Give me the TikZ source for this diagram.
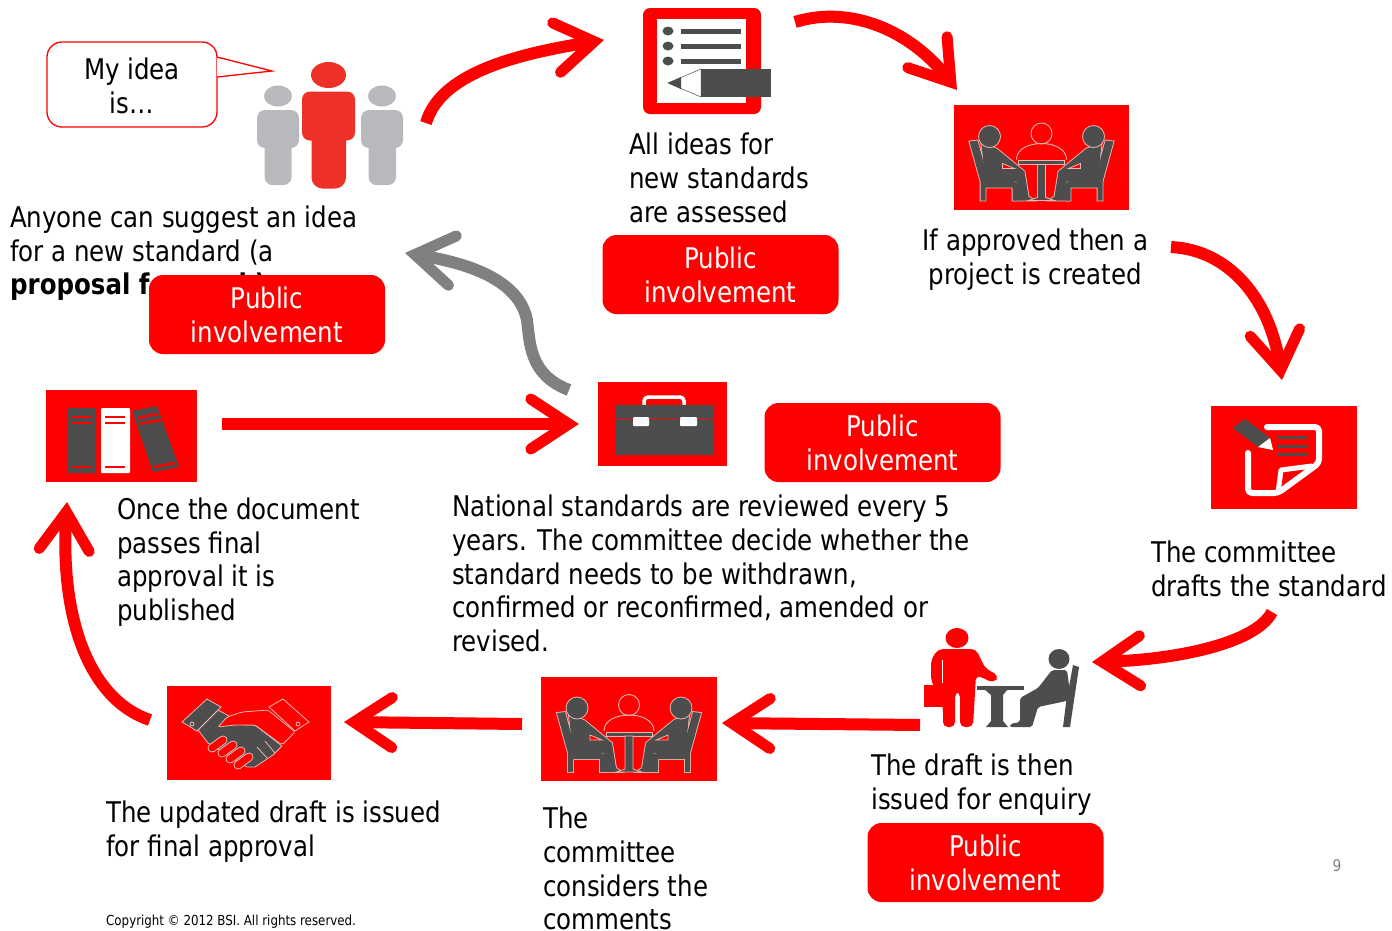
\documentclass[tikz,border=0pt]{standalone}
\usepackage{fontspec}
\setmainfont[FakeStretch=0.955]{DejaVu Sans Condensed}
\usetikzlibrary{arrows.meta}

\definecolor{bsired}{RGB}{255,0,0}
\definecolor{iconred}{RGB}{238,49,39}
\definecolor{icongray}{RGB}{77,77,77}
\definecolor{pale}{RGB}{184,185,189}
\definecolor{edge}{RGB}{232,185,176}
\definecolor{backarrow}{RGB}{128,128,128}

\begin{document}
\begin{tikzpicture}[x=1pt,y=-1pt]

% definitions
\tikzstyle{caption} = [anchor=north west, inner sep=0pt, align=left, font=\fontsize{28.5}{33.7}\selectfont, execute at begin node=\strut]

\tikzstyle{public} = [rectangle, rounded corners=14pt, minimum width=236pt, minimum height=79pt, fill=bsired, text=white, inner sep=0pt, align=center, font=\fontsize{28.5}{34}\selectfont, execute at begin node=\rule{0pt}{24pt}]

\tikzstyle{iconbox} = [rectangle, inner sep=0pt, fill=bsired]

\tikzstyle{arrow} = [line width=12pt, draw=bsired, -{Straight Barb[length=38pt, width=50pt, line width=11pt, line cap=round, line join=miter]}]

\tikzstyle{grayarrow} = [arrow, draw=backarrow]

\tikzset{meetingicon/.pic={
  \foreach \side in {1,-1} {
    \begin{scope}[xscale=\side]
      \draw[edge, line width=1.8pt] (-72,-16) -- (-64,-17) -- (-55,16) -- (-25,25) -- (-25,43) -- (-29,43) -- (-29,30) -- (-56,30) -- (-56,43) -- (-61,43) -- (-61,24) -- cycle;
      \draw[edge, line width=1.8pt] (-60,-14) -- (-45,-9) -- (-17,14) -- (-13,39) -- (-7,43) -- (-27,43) -- (-25,24) -- (-56,27) -- cycle;
      \fill[icongray] (-72,-16) -- (-64,-17) -- (-55,16) -- (-25,25) -- (-25,43) -- (-29,43) -- (-29,30) -- (-56,30) -- (-56,43) -- (-61,43) -- (-61,24) -- cycle;
      \fill[icongray] (-60,-14) -- (-45,-9) -- (-17,14) -- (-13,39) -- (-7,43) -- (-27,43) -- (-25,24) -- (-56,27) -- cycle;
      \filldraw[draw=edge, fill=bsired, line width=0.8pt] (-39,6) -- (-27,11) -- (-39,11) -- cycle;
      \filldraw[draw=edge, fill=icongray, line width=0.8pt] (-52,-21) circle [radius=11];
    \end{scope}
  }
  \draw[edge, line width=0.9pt] (0,-24) circle [radius=10.5];
  \draw[edge, line width=0.9pt] (-25,2) .. controls (-25,-9) and (-12,-14) .. (0,-14) .. controls (12,-14) and (25,-9) .. (25,2);
  \filldraw[draw=edge, fill=icongray, line width=0.8pt] (-23,3) rectangle (23,7);
  \filldraw[draw=edge, fill=icongray, line width=0.8pt] (-4,7) -- (4,7) -- (4,40) -- (13,43) -- (-13,43) -- (-4,40) -- cycle;
}}


% red and gray figures
\useasboundingbox (0,0) rectangle (1392,930);

\node (bubble) [rectangle, rounded corners=15pt, draw=bsired, line width=1.3pt, minimum width=170pt, minimum height=85pt, inner sep=0pt] at (132,84.5) {};
\node (bubbletext) [inner sep=0pt, align=center, font=\fontsize{28.5}{34}\selectfont] at (132,86) {My idea\\is…};
\coordinate (bubbletip) at (272,71);
\coordinate (bubblea) at (217,57);
\coordinate (bubbleb) at (217,77);
\draw[draw=bsired, fill=white, line width=1.3pt] (bubblea) -- (bubbletip) -- (bubbleb);

\node (peoplea) [rectangle, rounded corners=8pt, fill=pale, minimum width=42pt, minimum height=38pt, inner sep=0pt] at (278,129) {};
\node (peopleb) [rectangle, rounded corners=8pt, fill=iconred, minimum width=53pt, minimum height=49pt, inner sep=0pt] at (328.5,116) {};
\node (peoplec) [rectangle, rounded corners=8pt, fill=pale, minimum width=42pt, minimum height=38pt, inner sep=0pt] at (382,129) {};
\fill[pale] (278,96) ellipse [x radius=14, y radius=10.5];
\fill[pale, rounded corners=8pt] (264.5,140) rectangle (291.5,185);
\fill[iconred] (328.5,75) ellipse [x radius=17.5, y radius=13];
\fill[iconred, rounded corners=11pt] (311.5,130) rectangle (346,188.5);
\fill[pale] (382,96) ellipse [x radius=14, y radius=10.5];
\fill[pale, rounded corners=8pt] (368.5,140) rectangle (396,185);


% checklist
\node (ideas) [rectangle, rounded corners=7pt, fill=bsired, minimum width=118pt, minimum height=106pt, inner sep=0pt] at (702,61) {};
\fill[white] (657,19) rectangle (746,103);
\foreach \row in {31,46,61} {
  \fill[icongray] (668,\row) ellipse [x radius=5.5, y radius=4.5];
  \fill[icongray] (681,\row-2.5) rectangle (741,\row+2.5);
}
\filldraw[draw=icongray, fill=white, line width=0.5pt] (701,69) -- (701,97) -- (668,83) -- cycle;
\fill[icongray] (681,77) -- (681,89) -- (668,83) -- cycle;
\fill[icongray] (701,69) rectangle (771,97);


% meeting at the top
\node (meetinga) [iconbox, minimum width=175pt, minimum height=105pt] at (1041.5,157.5) {};
\pic at (meetinga) {meetingicon};


% drafting
\node (drafting) [iconbox, minimum width=146pt, minimum height=103pt] at (1284,457.5) {};
\draw[white, line width=6pt, line join=round, line cap=round, rounded corners=4pt] (1267,427) -- (1319,427) -- (1319,463) -- (1278,493) -- (1248,493) -- (1248,453);
\draw[white, line width=5pt, line join=round] (1278,493) -- (1281,470) -- (1312,466);
\foreach \row in {437,446,454} {
  \fill[icongray] (1277,\row-1.5) rectangle (1308,\row+1.5);
}
\fill[icongray] (1233,428) -- (1245,419) -- (1270,438) -- (1258,447) -- cycle;
\fill[white] (1258,447) -- (1270,438) -- (1273,450) -- cycle;


% enquiry
\fill[bsired] (957,638) ellipse [x radius=11.5, y radius=10];
\fill[bsired, rounded corners=5pt] (938,649) -- (976,649) -- (985,668) -- (999,676) -- (994,683) -- (976,675) -- (973,727) -- (960,727) -- (960,692) -- (955,692) -- (955,727) -- (943,727) -- (943,707) -- (931,680) -- (931,660) -- cycle;
\fill[bsired] (924,685) rectangle (945,707);
\draw[white, line width=0.8pt] (942,660) -- (942,683);
\fill[icongray] (977,686) rectangle (1024,689.5);
\fill[icongray] (984,689) -- (1008,689) -- (1003,695) -- (1003,721) -- (1008,727) -- (986,727) -- (991,721) -- (991,695) -- cycle;
\fill[icongray] (1059,659) ellipse [x radius=10.5, y radius=10];
\fill[icongray, rounded corners=2pt] (1052,670) -- (1067,670) -- (1071,700) -- (1038,707) -- (1032,727) -- (1010,727) -- (1010,724) -- (1020,722) -- (1020,698) -- (1038,688) -- cycle;
\fill[icongray] (1073,665) -- (1079,667) -- (1070,727) -- (1063,727) -- (1066,703) -- cycle;


% meeting at the bottom
\node (meetingb) [iconbox, minimum width=176pt, minimum height=104pt] at (629,729) {};
\pic at (meetingb) {meetingicon};


% handshake
\node (handshake) [iconbox, minimum width=164pt, minimum height=94pt] at (249,733) {};
\begin{scope}[draw=edge, line width=0.8pt]
\filldraw[fill=icongray] (198,730) -- (218,710) -- (245,725) -- (255,725) -- (282,746) -- (273,755) -- (255,767) -- (247,767) -- (208,743) -- cycle;
\filldraw[fill=bsired, rounded corners=2pt] (218,727) -- (227,717) -- (242,712) -- (268,710) -- (295,732) -- (282,745) -- (255,725) -- (235,725) -- cycle;
\filldraw[fill=icongray] (182,722) -- (207,699) -- (221,707) -- (197,731) -- cycle;
\filldraw[fill=bsired] (269,707) -- (283,699) -- (309,722) -- (295,731) -- cycle;
\draw (192,724) circle [radius=2];
\draw (298,724) circle [radius=2];
\draw (257,747) -- (267,758);
\draw (265,741) -- (275,753);
\end{scope}
\foreach \px/\py in {218/744, 228/749, 236/755, 244/761} {
  \draw[edge, line width=9pt, line cap=round] (\px-6,\py+4) -- (\px+5,\py-4);
  \draw[bsired, line width=7pt, line cap=round] (\px-6,\py+4) -- (\px+5,\py-4);
}


% books
\node (books) [iconbox, minimum width=151pt, minimum height=92pt] at (121.5,436) {};
\fill[icongray, rounded corners=1pt] (68,408) rectangle (96,473);
\fill[white, rounded corners=1pt] (101,408) rectangle (130,473);
\fill[icongray, rounded corners=1pt] (132,411) -- (157,406) -- (179,467) -- (153,472) -- cycle;
\foreach \bx in {72,105} {
  \draw[bsired, line width=2.5pt] (\bx,417) -- (\bx+20,417);
  \draw[bsired, line width=2.5pt] (\bx,423) -- (\bx+20,423);
  \draw[bsired, line width=2.5pt] (\bx,467) -- (\bx+20,467);
}
\draw[bsired, line width=2.5pt] (137,418) -- (158,414);
\draw[bsired, line width=2.5pt] (139,424) -- (161,420);
\draw[bsired, line width=2.5pt] (154,467) -- (175,463);


% toolbox
\node (toolbox) [iconbox, minimum width=129pt, minimum height=84pt] at (662.5,424) {};
\draw[white, line width=3.5pt, rounded corners=4pt] (644,405) -- (644,397) -- (684,397) -- (684,405);
\fill[icongray, rounded corners=1pt] (615,405) rectangle (714,455);
\draw[bsired, line width=1pt] (615,419) -- (714,419);
\fill[white, rounded corners=1pt] (633,417) rectangle (649,426);
\fill[white, rounded corners=1pt] (680,417) rectangle (697,426);


% captions
\node (suggest) [caption] at (10,205.5) {Anyone can suggest an idea\\for a new standard (a\\\textbf{proposal for work)}};
\node (assessed) [caption] at (629,133) {All ideas for\\new standards\\are assessed};
\node (approved) [caption, align=center, anchor=north] at (1035.5,228.5) {If approved then a\\project is created};
\node (drafts) [caption] at (1151,541) {The committee\\drafts the standard};
\node (published) [caption] at (117,497.5) {Once the document\\passes final\\approval it is\\published};
\node (reviewed) [caption] at (452,495) {National standards are reviewed every 5\\years. The committee decide whether the\\standard needs to be withdrawn,\\confirmed or reconfirmed, amended or\\revised.};
\node (issued) [caption] at (871,753.5) {The draft is then\\issued for enquiry};
\node (updated) [caption] at (106,800.5) {The updated draft is issued\\for final approval};
\node (considers) [caption] at (543,807) {The\\committee\\considers the\\comments};
\node (copyright) [inner sep=0pt, anchor=west, font=\fontsize{13.8}{16}\selectfont] at (106,922) {Copyright © 2012 BSI. All rights reserved.};
\node (pagenum) [inner sep=0pt, text=gray, font=\fontsize{16}{18}\selectfont] at (1337,866) {9};


% public involvement
\node (publica) [public] at (267,314.5) {Public\\involvement};
\node (publicb) [public] at (720.5,274.5) {Public\\involvement};
\node (publicc) [public] at (882.5,442.5) {Public\\involvement};
\node (publicd) [public] at (985.5,862.5) {Public\\involvement};


% arrows
\coordinate (outa) at (426,123);
\coordinate (ina) at (604,40);
\coordinate (outb) at (795,22);
\coordinate (inb) at (957,90);
\coordinate (outc) at (1171,247);
\coordinate (inc) at (1282,380);
\coordinate (outd) at (1272,612);
\coordinate (ind) at (1092,662);
\coordinate (oute) at (920,725);
\coordinate (ine) at (722,723);
\coordinate (outf) at (522,724);
\coordinate (inf) at (344,722);
\coordinate (outg) at (150,720);
\coordinate (ing) at (67,502);
\coordinate (outh) at (569,390);
\coordinate (turnh) at (527,320);
\coordinate (inh) at (405,253);

\draw [arrow] (outa) .. controls (440,75) and (510,55) .. (ina);
\draw [arrow] (outb) .. controls (850,5) and (910,30) .. (inb);
\draw [arrow] (outc) .. controls (1230,250) and (1270,300) .. (inc);
\draw [arrow] (outd) .. controls (1255,645) and (1170,660) .. (ind);
\draw [arrow] (oute) -- (ine);
\draw [arrow] (outf) -- (inf);
\draw [arrow] (outg) .. controls (90,700) and (60,620) .. (ing);
\draw [arrow, shorten <=25pt, shorten >=19pt] (books.east |- toolbox.west) -- (toolbox.west);
\draw [grayarrow] (outh) .. controls (530,375) and (530,345) .. (turnh) .. controls (520,285) and (480,265) .. (inh);

\end{tikzpicture}
\end{document}
